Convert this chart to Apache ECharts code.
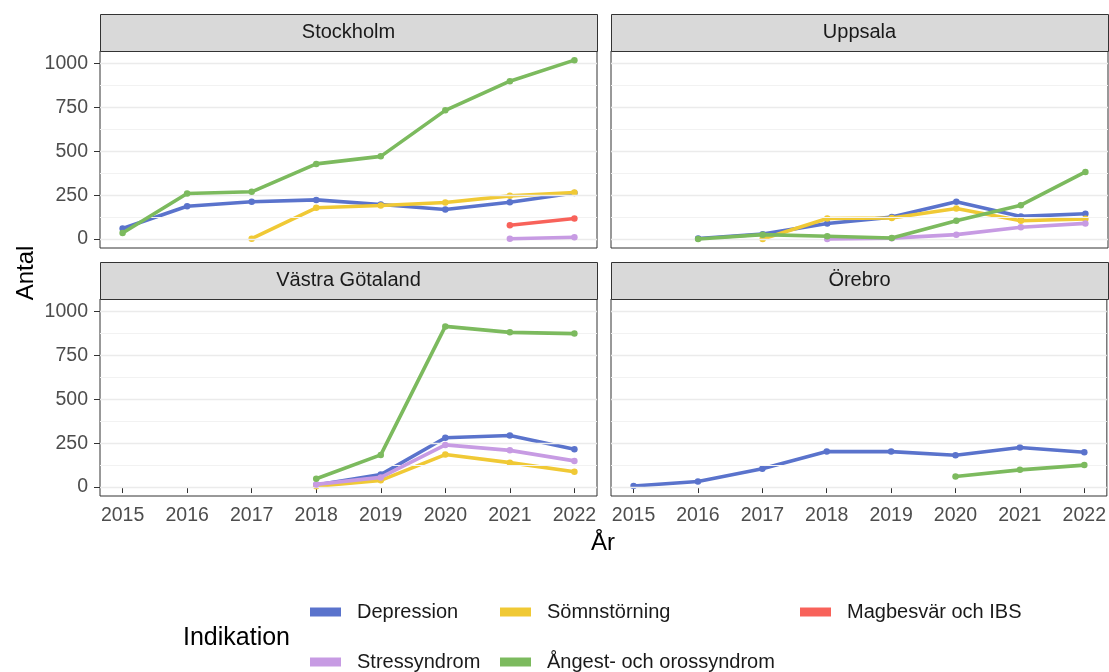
<!DOCTYPE html>
<html>
<head>
<meta charset="utf-8">
<script src="https://cdn.jsdelivr.net/npm/echarts@6/dist/echarts.min.js"></script>
<style>
  html, body { margin: 0; padding: 0; background: #fff; }
  #chart { width: 1109px; height: 672px; }
</style>
</head>
<body>
<div id="chart"></div>
<script>
// år på x-axeln
const years = [2015, 2016, 2017, 2018, 2019, 2020, 2021, 2022]
const yTicks = [0, 250, 500, 750, 1000]
const yMinor = [125, 375, 625, 875]
const indications = ['Depression', 'Sömnstörning', 'Magbesvär och IBS', 'Stressyndrom', 'Ångest- och orossyndrom']
const colors = ['#5a73cc', '#f0c935', '#f8625a', '#c79be3', '#7cba5e']
const regions = ['Stockholm', 'Uppsala', 'Västra Götaland', 'Örebro']

// Stockholm
const sthlmDepression = [60, 187, 212, 223, 197, 168, 210, 262]
const sthlmSomn = [null, null, 2, 178, 191, 208, 246, 265]
const sthlmMag = [null, null, null, null, null, null, 79, 117]
const sthlmStress = [null, null, null, null, null, null, 2, 10]
const sthlmAngest = [34, 259, 269, 428, 471, 733, 899, 1019]

// Uppsala
const uppsDepression = [null, 3, 28, 89, 125, 212, 129, 144]
const uppsSomn = [null, null, 0, 117, 120, 174, 104, 115]
const uppsMag = []
const uppsStress = [null, null, null, 0, 5, 25, 67, 89]
const uppsAngest = [null, 0, 25, 16, 6, 104, 193, 382]

// Västra Götaland
const vgDepression = [null, null, null, 12, 71, 281, 294, 215]
const vgSomn = [null, null, null, 5, 38, 185, 139, 87]
const vgMag = []
const vgStress = [null, null, null, 15, 55, 240, 209, 149]
const vgAngest = [null, null, null, 47, 183, 915, 881, 874]

// Örebro
const orebroDepression = [6, 32, 104, 202, 202, 181, 225, 198]
const orebroSomn = []
const orebroMag = []
const orebroStress = []
const orebroAngest = [null, null, null, null, null, 60, 98, 125]

const regionData = [
  [sthlmDepression, sthlmSomn, sthlmMag, sthlmStress, sthlmAngest],
  [uppsDepression, uppsSomn, uppsMag, uppsStress, uppsAngest],
  [vgDepression, vgSomn, vgMag, vgStress, vgAngest],
  [orebroDepression, orebroSomn, orebroMag, orebroStress, orebroAngest]
]

const FONT = "'Liberation Sans', Arial, sans-serif"
const panelW = 497
const panelH = 197
const panelLeft = [100, 611, 100, 611]
const panelTop = [51, 51, 299, 299]
const stripH = 37

const toPairs = (vals) => years
  .map((y, i) => [y, vals[i]])
  .filter(p => p[1] !== null && p[1] !== undefined)

const grids = []
const xAxes = []
const yAxes = []
const series = []
const graphics = []

regions.forEach((region, idx) => {
  const isBottom = idx >= 2
  const isLeft = idx % 2 === 0
  grids.push({
    left: panelLeft[idx],
    top: panelTop[idx],
    width: panelW,
    height: panelH,
    show: true,
    borderColor: '#333',
    borderWidth: 1,
    backgroundColor: '#fff'
  })
  xAxes.push({
    type: 'value',
    gridIndex: idx,
    min: 2014.65,
    max: 2022.35,
    splitLine: { show: false },
    axisLine: { show: false },
    axisTick: {
      show: isBottom,
      customValues: years,
      length: 6,
      lineStyle: { color: '#333', width: 1 }
    },
    axisLabel: {
      show: isBottom,
      customValues: years,
      formatter: v => String(v),
      margin: 10,
      fontFamily: FONT,
      fontSize: 19.5,
      color: '#4d4d4d'
    }
  })
  yAxes.push({
    type: 'value',
    gridIndex: idx,
    min: -51,
    max: 1071,
    splitLine: { show: false },
    axisLine: { show: false },
    axisTick: {
      show: isLeft,
      customValues: yTicks,
      length: 6,
      lineStyle: { color: '#333', width: 1 }
    },
    axisLabel: {
      show: isLeft,
      customValues: yTicks,
      formatter: v => String(v),
      margin: 12,
      fontFamily: FONT,
      fontSize: 19.5,
      color: '#4d4d4d'
    }
  })

  // stödlinjer
  series.push({
    type: 'line',
    xAxisIndex: idx,
    yAxisIndex: idx,
    data: [],
    silent: true,
    z: 1,
    markLine: {
      silent: true,
      symbol: ['none', 'none'],
      label: { show: false },
      animation: false,
      data: yTicks.map(v => ({ yAxis: v, lineStyle: { color: '#ebebeb', width: 1.4, type: 'solid' } }))
        .concat(yMinor.map(v => ({ yAxis: v, lineStyle: { color: '#f2f2f2', width: 1, type: 'solid' } })))
    }
  })

  indications.forEach((name, k) => {
    const pairs = toPairs(regionData[idx][k])
    if (!pairs.length) return
    series.push({
      name: name,
      type: 'line',
      xAxisIndex: idx,
      yAxisIndex: idx,
      data: pairs,
      z: 3 + k,
      color: colors[k],
      lineStyle: { width: 3.6, color: colors[k] },
      symbol: 'circle',
      symbolSize: 6.5,
      itemStyle: { color: colors[k] },
      emphasis: { disabled: true }
    })
  })

  // rubrikremsa
  graphics.push({
    type: 'rect',
    shape: { x: panelLeft[idx] + 0.5, y: panelTop[idx] - stripH + 0.5, width: panelW, height: stripH },
    style: { fill: '#d9d9d9', stroke: '#333', lineWidth: 1 },
    z: 10
  })
  graphics.push({
    type: 'text',
    x: panelLeft[idx] + panelW / 2,
    y: panelTop[idx] - stripH / 2,
    style: {
      text: region,
      fontFamily: FONT,
      fontSize: 20,
      fill: '#1a1a1a',
      textAlign: 'center',
      textVerticalAlign: 'middle'
    },
    z: 11
  })
})

graphics.push({
  type: 'text',
  x: 26,
  y: 273,
  rotation: Math.PI / 2,
  style: { text: 'Antal', fontFamily: FONT, fontSize: 24, fill: '#000', textAlign: 'center', textVerticalAlign: 'middle' }
})
graphics.push({
  type: 'text',
  x: 603,
  y: 543,
  style: { text: 'År', fontFamily: FONT, fontSize: 24, fill: '#000', textAlign: 'center', textVerticalAlign: 'middle' }
})
graphics.push({
  type: 'text',
  x: 183,
  y: 638,
  style: { text: 'Indikation', fontFamily: FONT, fontSize: 25, fill: '#000', textAlign: 'left', textVerticalAlign: 'middle' }
})

// legend, en ruta per post
const legendPos = [[310, 602], [500, 602], [800, 602], [310, 652], [500, 652]]
const legends = indications.map((name, k) => ({
  data: [name],
  left: legendPos[k][0],
  top: legendPos[k][1],
  padding: 0,
  icon: 'rect',
  itemWidth: 31,
  itemHeight: 9,
  selectedMode: false,
  textStyle: { fontFamily: FONT, fontSize: 20, color: '#1a1a1a', padding: [0, 0, 0, 11] }
}))

const chart = echarts.init(document.getElementById('chart'), null, { renderer: 'canvas' })
chart.setOption({
  animation: false,
  backgroundColor: '#fff',
  grid: grids,
  xAxis: xAxes,
  yAxis: yAxes,
  legend: legends,
  series: series,
  graphic: graphics
})
</script>
</body>
</html>
